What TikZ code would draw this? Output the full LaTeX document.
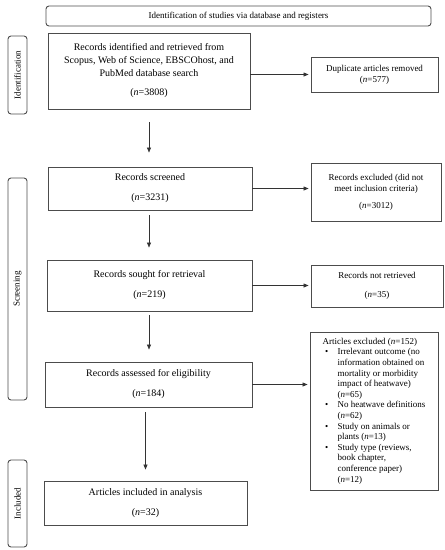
\documentclass[tikz,border=0pt]{standalone}
\usepackage{fontspec}
\setmainfont{Liberation Serif}
\usetikzlibrary{arrows.meta,calc}
\newcommand{\nn}{\textit{n}}
\begin{document}
\begin{tikzpicture}[x=1pt,y=-1pt,
  mainbox/.style={draw=black!70,line width=0.9pt,rectangle,inner sep=0pt,align=center,font=\fontsize{10}{13}\selectfont},
  sidebox/.style={draw=black!70,line width=0.9pt,rectangle,inner sep=0pt,align=center,font=\fontsize{9}{11}\selectfont},
  phase/.style={draw=black!70,line width=0.9pt,rounded corners=3pt,inner sep=0pt,align=center,font=\fontsize{9}{11}\selectfont},
  flow/.style={draw=black!80,line width=0.6pt,-{Triangle[length=5pt,width=4pt]}}
]
\useasboundingbox (0,0) rectangle (445,550);
% header and phases
\node[phase,minimum width=385pt,minimum height=20pt] (head) at (238.5,16) {Identification of studies via database and registers};
\node[phase,minimum height=19pt,minimum width=78pt,rotate=90] (pid) at (17.5,75) {Identification};
\node[phase,minimum height=19pt,minimum width=222pt,rotate=90] (pscr) at (17.5,289) {Screening};
\node[phase,minimum height=19pt,minimum width=87pt,rotate=90] (pinc) at (17.5,503.5) {Included};
% left column
\node[mainbox,minimum width=202pt,minimum height=76pt] (b1) at (149,71) {Records identified and retrieved from\\Scopus, Web of Science, EBSCOhost, and\\PubMed database search\\[6pt](\nn=3808)};
\node[mainbox,minimum width=204pt,minimum height=43pt] (b2) at (150,188.5) {Records screened\\[7pt](\nn=3231)};
\node[mainbox,minimum width=205pt,minimum height=51pt] (b3) at (149.5,285.5) {Records sought for retrieval\\[7pt](\nn=219)};
\node[mainbox,minimum width=207pt,minimum height=45pt] (b4) at (148.5,384.5) {Records assessed for eligibility\\[7pt](\nn=184)};
\node[mainbox,minimum width=203pt,minimum height=44pt] (b5) at (145.5,503) {Articles included in analysis\\[7pt](\nn=32)};
% right column
\node[sidebox,minimum width=127pt,minimum height=35pt] (s1) at (374.5,74.5) {Duplicate articles removed\\(\nn=577)};
\node[sidebox,minimum width=130pt,minimum height=58pt] (s2) at (376,192) {Records excluded (did not\\meet inclusion criteria)\\[6pt](\nn=3012)};
\node[sidebox,minimum width=132pt,minimum height=42pt] (s3) at (377,286) {Records not retrieved\\[8pt](\nn=35)};
\node[sidebox,minimum width=128pt,minimum height=158pt,font=\fontsize{9}{10.6}\selectfont] (s4) at (374,411) {%
\begin{tabular}{@{}p{15pt}@{}l@{}}
\multicolumn{2}{@{}l@{}}{Articles excluded (\nn=152)}\\
\hspace{2.5pt}\textbullet & Irrelevant outcome (no\\
 & information obtained on\\
 & mortality or morbidity\\
 & impact of heatwave)\\
 & (\nn=65)\\
\hspace{2.5pt}\textbullet & No heatwave definitions\\
 & (\nn=62)\\
\hspace{2.5pt}\textbullet & Study on animals or\\
 & plants (\nn=13)\\
\hspace{2.5pt}\textbullet & Study type (reviews,\\
 & book chapter,\\
 & conference paper)\\
 & (\nn=12)
\end{tabular}};
% vertical arrows
\draw[flow,shorten <=13pt,shorten >=14pt] (b1.south) -- (b1.south |- b2.north);
\draw[flow,shorten <=5pt,shorten >=12pt] (b2.south -| b1.south) -- (b1.south |- b3.north);
\draw[flow,shorten <=4pt,shorten >=12pt] (b3.south -| b1.south) -- (b1.south |- b4.north);
\draw[flow,shorten <=5pt,shorten >=11pt] (b4.south -| b5.north) -- (b5.north);
% horizontal arrows
\draw[flow,shorten >=2pt] (b1.east |- s1.west) -- (s1.west);
\draw[flow,shorten >=2pt] (b2.east) -- (b2.east -| s2.west);
\draw[flow,shorten >=2pt] (b3.east) -- (b3.east -| s3.west);
\draw[flow,shorten >=2pt] (b4.east) -- (b4.east -| s4.west);
\end{tikzpicture}
\end{document}
